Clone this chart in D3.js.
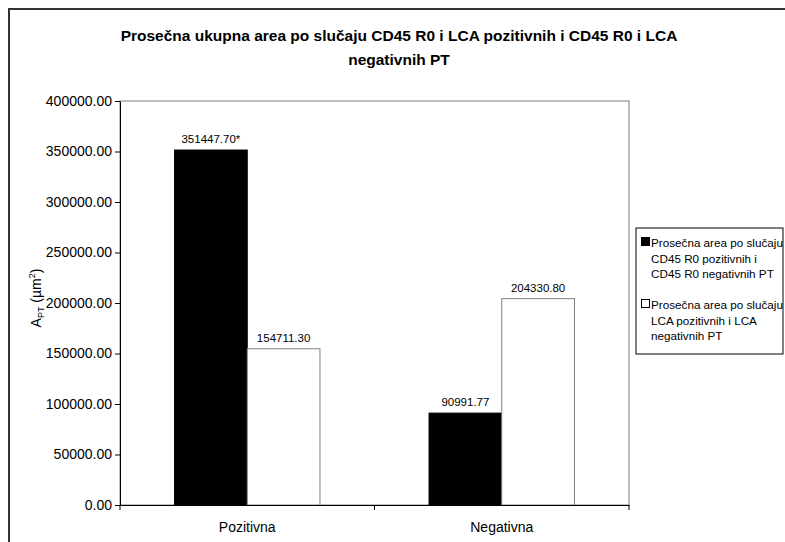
<!DOCTYPE html>
<html><head><meta charset="utf-8">
<script src="https://cdn.jsdelivr.net/npm/d3@7"></script>
<style>body{margin:0;background:#fff}svg{display:block;font-family:"Liberation Sans",Arial,sans-serif}</style>
</head><body>
<script>
const categories = ["Pozitivna", "Negativna"];
const seriesNames = [
  ["Prosečna area po slučaju", "CD45 R0 pozitivnih i", "CD45 R0 negativnih PT"],
  ["Prosečna area po slučaju", "LCA pozitivnih i LCA", "negativnih PT"]
];
const seriesCD45 = [351447.70, 90991.77];
const seriesLCA = [154711.30, 204330.80];
const valueLabels = [["351447.70*", "90991.77"], ["154711.30", "204330.80"]];
const yTicks = [0, 50000, 100000, 150000, 200000, 250000, 300000, 350000, 400000];
const titleLines = ["Prosečna ukupna area po slučaju CD45 R0 i LCA pozitivnih i CD45 R0 i LCA", "negativnih PT"];

const W = 785, H = 542;
const svg = d3.select("body").append("svg").attr("width", W).attr("height", H);
svg.append("rect").attr("width", W).attr("height", H).attr("fill", "#fff");
// chart area border
svg.append("rect").attr("x", 9).attr("y", 9).attr("width", W + 10).attr("height", H + 10)
  .attr("fill", "none").attr("stroke", "#333").attr("stroke-width", 2);

const plot = {l: 120, r: 629, t: 101, b: 505};
const x0 = d3.scaleBand().domain(categories).range([plot.l, plot.r]).paddingInner(0).paddingOuter(0);
const series = [seriesCD45, seriesLCA];
const x1 = d3.scaleBand().domain([0, 1]).range([0, x0.bandwidth()]).paddingInner(0).paddingOuter(0.75);
const y = d3.scaleLinear().domain([0, 400000]).range([plot.b, plot.t]);

// plot frame
svg.append("rect").attr("x", plot.l).attr("y", plot.t).attr("width", plot.r - plot.l).attr("height", plot.b - plot.t)
  .attr("fill", "#fff").attr("stroke", "#808080").attr("stroke-width", 1);

// title
svg.append("g").selectAll("text").data(titleLines).join("text")
  .attr("x", 399).attr("y", (d, i) => 41 + i * 24).attr("text-anchor", "middle")
  .attr("font-size", 15.5).attr("font-weight", "bold").attr("fill", "#000").text(d => d);

// bars
const fills = ["#000", "#fff"], strokes = ["#000", "#808080"];
series.forEach((s, si) => {
  svg.append("g").selectAll("rect").data(s).join("rect")
    .attr("x", (d, i) => x0(categories[i]) + x1(si))
    .attr("y", d => y(d)).attr("width", x1.bandwidth()).attr("height", d => y(0) - y(d))
    .attr("fill", fills[si]).attr("stroke", strokes[si]).attr("stroke-width", 1);
  svg.append("g").selectAll("text").data(s).join("text")
    .attr("x", (d, i) => x0(categories[i]) + x1(si) + x1.bandwidth() / 2)
    .attr("y", d => y(d) - 7).attr("text-anchor", "middle").attr("font-size", 11.5).attr("fill", "#000")
    .text((d, i) => valueLabels[si][i]);
});

// y axis
const yAxis = d3.axisLeft(y).tickValues(yTicks).tickFormat(d => d3.format(".2f")(d)).tickSize(5).tickSizeOuter(0);
const gy = svg.append("g").attr("transform", `translate(${plot.l},0)`).call(yAxis);
gy.select(".domain").attr("stroke", "#000");
gy.selectAll(".tick line").attr("stroke", "#000");
gy.selectAll(".tick text").attr("font-size", 14).attr("font-family", "Liberation Sans, Arial, sans-serif").attr("fill", "#000").attr("x", -8);

// x axis
const xAxis = d3.axisBottom(x0).tickSize(0).tickSizeOuter(0);
const gx = svg.append("g").attr("transform", `translate(0,${plot.b})`).call(xAxis);
gx.select(".domain").attr("stroke", "#000");
gx.selectAll(".tick text").attr("font-size", 14).attr("font-family", "Liberation Sans, Arial, sans-serif").attr("fill", "#000").attr("dy", 0).attr("y", 27);
// category separator ticks
const sepTicks = [plot.l, plot.l + x0.bandwidth(), plot.r];
svg.append("g").selectAll("line").data(sepTicks).join("line")
  .attr("x1", d => d).attr("x2", d => d).attr("y1", plot.b).attr("y2", plot.b + 5).attr("stroke", "#000");

// y label
const yl = svg.append("text").attr("transform", "translate(41,298) rotate(-90)").attr("text-anchor", "middle")
  .attr("font-size", 14).attr("fill", "#000");
yl.append("tspan").text("A");
yl.append("tspan").attr("font-size", 9).attr("dy", 3).text("PT");
yl.append("tspan").attr("dy", -3).text(" (µm");
yl.append("tspan").attr("font-size", 9).attr("dy", -6).text("2");
yl.append("tspan").attr("dy", 6).text(")");

// legend
svg.append("rect").attr("x", 636).attr("y", 228).attr("width", 147).attr("height", 126)
  .attr("fill", "#fff").attr("stroke", "#000").attr("stroke-width", 1);
const leg = svg.append("g");
seriesNames.forEach((lines, si) => {
  const top = 247 + si * 62;
  leg.append("rect").attr("x", 641.5).attr("y", top - 9.5).attr("width", 8).attr("height", 8)
    .attr("fill", fills[si]).attr("stroke", "#000");
  leg.append("g").selectAll("text").data(lines).join("text")
    .attr("x", 651).attr("y", (d, i) => top + i * 15.5).attr("font-size", 11.7).attr("fill", "#000").text(d => d);
});
</script>
</body></html>
